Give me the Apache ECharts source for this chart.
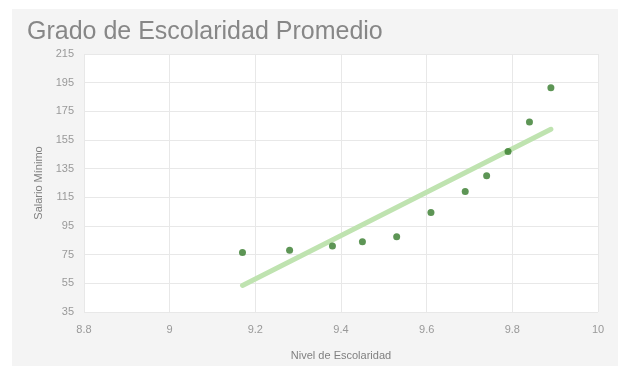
<!DOCTYPE html>
<html>
<head>
<meta charset="utf-8">
<script src="https://cdn.jsdelivr.net/npm/echarts@6/dist/echarts.min.js"></script>
<style>
  html, body { margin: 0; padding: 0; background: #ffffff; }
  #panel { position: absolute; left: 12px; top: 9px; width: 606px; height: 357px; background: #f4f4f4; }
  #chart { position: absolute; left: 0; top: 0; width: 623px; height: 366px; }
</style>
</head>
<body>
<div id="panel"></div>
<div id="chart"></div>
<script>
// Nivel de escolaridad (x) vs salario mínimo (y)
const escolaridad = [9.17, 9.28, 9.38, 9.45, 9.53, 9.61, 9.69, 9.74, 9.79, 9.84, 9.89];
const salario     = [76.5, 78, 81, 84, 87.5, 104.5, 119, 130, 147, 167.5, 191.5];
// Línea de tendencia: extremos
const tendenciaX = [9.17, 9.89];
const tendenciaY = [53.5, 162.5];
const xTicks = [8.8, 9, 9.2, 9.4, 9.6, 9.8, 10];
const yTicks = [35, 55, 75, 95, 115, 135, 155, 175, 195, 215];

const puntos = escolaridad.map((x, i) => [x, salario[i]]);
const tendencia = tendenciaX.map((x, i) => [x, tendenciaY[i]]);

const fuente = 'Liberation Sans, Arial, sans-serif';
const chart = echarts.init(document.getElementById('chart'), null, { renderer: 'canvas' });
chart.setOption({
  backgroundColor: 'transparent',
  animation: false,
  title: {
    text: 'Grado de Escolaridad Promedio',
    left: 22, top: 15,
    textStyle: { fontFamily: fuente, fontSize: 25, fontWeight: 'normal', color: '#878787' }
  },
  grid: {
    left: 84, right: 25, top: 54, bottom: 52,
    show: true, backgroundColor: '#ffffff', borderWidth: 0
  },
  xAxis: {
    type: 'value',
    min: xTicks[0], max: xTicks[xTicks.length - 1], interval: 0.2,
    name: 'Nivel de Escolaridad',
    nameLocation: 'middle', nameGap: 38,
    nameTextStyle: { fontFamily: fuente, fontSize: 11, color: '#808080' },
    axisLine: { show: false },
    axisTick: { show: false },
    axisLabel: {
      margin: 12, fontFamily: fuente, fontSize: 11, color: '#999999',
      formatter: v => String(Math.round(v * 10) / 10)
    },
    splitLine: { show: true, lineStyle: { color: '#e8e8e8', width: 1 } }
  },
  yAxis: {
    type: 'value',
    min: yTicks[0], max: yTicks[yTicks.length - 1], interval: 20,
    name: 'Salario Mínimo',
    nameLocation: 'middle', nameGap: 40, nameRotate: 90,
    nameTextStyle: { fontFamily: fuente, fontSize: 11, color: '#808080' },
    axisLine: { show: false },
    axisTick: { show: false },
    axisLabel: { margin: 10, fontFamily: fuente, fontSize: 11, color: '#999999' },
    splitLine: { show: true, lineStyle: { color: '#e8e8e8', width: 1 } }
  },
  series: [
    {
      name: 'Tendencia',
      type: 'line',
      data: tendencia,
      symbol: 'none',
      lineStyle: { color: '#bfe3b0', width: 5, cap: 'round' },
      z: 1
    },
    {
      name: 'Salario',
      type: 'scatter',
      data: puntos,
      symbolSize: 7,
      itemStyle: { color: '#357a2b' },
      z: 2
    }
  ]
});
</script>
</body>
</html>
